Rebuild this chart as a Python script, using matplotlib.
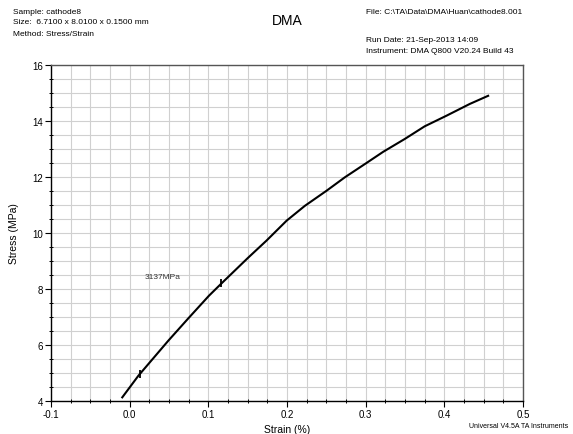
import matplotlib
matplotlib.use("Agg")
from matplotlib import pyplot as plt
from matplotlib.ticker import MultipleLocator

plt.rcParams['font.family'] = ['Liberation Sans', 'DejaVu Sans']

# stress/strain curve
strain = [-0.0094, 0.011, 0.049, 0.0745, 0.1008, 0.116, 0.1507, 0.174, 0.1995,
          0.2227, 0.2503, 0.2736, 0.301, 0.3223, 0.3498, 0.375, 0.4028, 0.4324, 0.4557]
stress = [4.13, 4.90, 6.15, 6.95, 7.76, 8.18, 9.12, 9.73, 10.44,
          10.97, 11.51, 11.99, 12.50, 12.90, 13.36, 13.81, 14.19, 14.61, 14.90]

# modulus analysis limits
limit_x = [0.0125, 0.116]
limit_y = [4.95, 8.21]
modulus_text = "3137MPa"

xticks = [-0.1, 0.0, 0.1, 0.2, 0.3, 0.4, 0.5]
yticks = [4, 6, 8, 10, 12, 14, 16]

fig = plt.figure(figsize=(5.73, 4.35), dpi=100)
ax = fig.add_axes([51/573, 1 - 402/435, 472/573, 336/435])

ax.plot(strain, stress, color='black', linewidth=1.5)
ax.plot(limit_x, limit_y, linestyle='none', marker='|', markersize=6,
        markeredgewidth=1.3, color='black')
ax.text(0.0194, 8.43, modulus_text, fontsize=6, color='#333333', va='center')

ax.set_xlim(-0.1, 0.5)
ax.set_ylim(4, 16)
ax.set_xticks(xticks)
ax.set_xticklabels(['-0.1', '0.0', '0.1', '0.2', '0.3', '0.4', '0.5'])
ax.set_yticks(yticks)
ax.xaxis.set_minor_locator(MultipleLocator(0.025))
ax.yaxis.set_minor_locator(MultipleLocator(0.5))
ax.grid(which='both', color='#d0d0d0', linewidth=0.8)
ax.set_axisbelow(True)
ax.tick_params(which='major', direction='out', length=4, width=0.8,
               labelsize=7, pad=1.5)
ax.tick_params(which='minor', direction='inout', length=3, width=0.7)
for s in ['left', 'bottom']:
    ax.spines[s].set_linewidth(1.0)
    ax.spines[s].set_color('black')
for s in ['top', 'right']:
    ax.spines[s].set_linewidth(1.0)
    ax.spines[s].set_color('#555555')

ax.set_xlabel('Strain (%)', fontsize=7.5, labelpad=4)
ax.set_ylabel('Stress (MPa)', fontsize=7.5, labelpad=10)

fig.text(13/573, 1 - 12/435, 'Sample: cathode8', fontsize=6, va='center')
fig.text(13/573, 1 - 23/435, 'Size:  6.7100 x 8.0100 x 0.1500 mm', fontsize=6, va='center')
fig.text(13/573, 1 - 34/435, 'Method: Stress/Strain', fontsize=6, va='center')
fig.text(287/573, 1 - 21/435, 'DMA', fontsize=10, ha='center', va='center')
fig.text(366/573, 1 - 12/435, 'File: C:\\TA\\Data\\DMA\\Huan\\cathode8.001', fontsize=6, va='center')
fig.text(366/573, 1 - 41/435, 'Run Date: 21-Sep-2013 14:09', fontsize=6, va='center')
fig.text(366/573, 1 - 52/435, 'Instrument: DMA Q800 V20.24 Build 43', fontsize=6, va='center')
fig.text(568/573, 1 - 427/435, 'Universal V4.5A TA Instruments', fontsize=5, ha='right', va='center')

fig.savefig('out.png', dpi=100)
plt.close()
